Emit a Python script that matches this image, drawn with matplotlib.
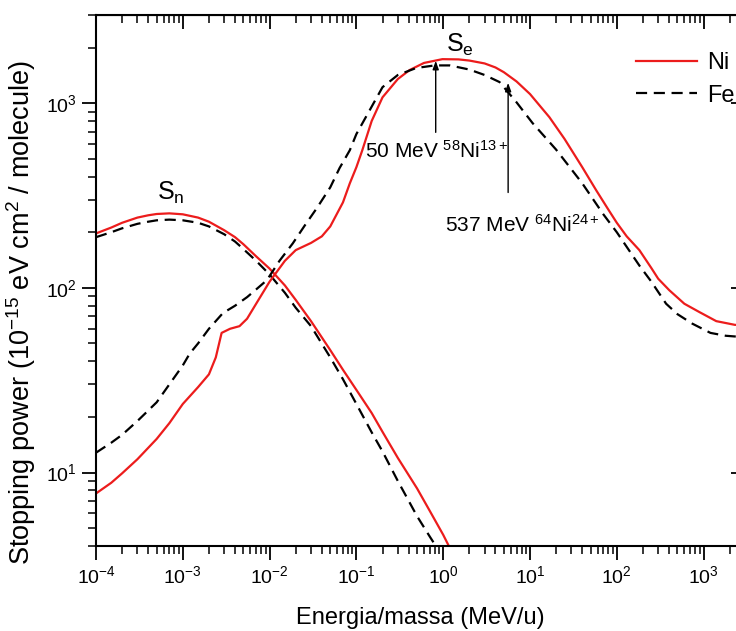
import numpy as np
import matplotlib
matplotlib.use("Agg")
import matplotlib.pyplot as plt

plt.rcParams['font.family'] = ['Liberation Sans', 'DejaVu Sans']
plt.rcParams['mathtext.fontset'] = 'custom'
plt.rcParams['mathtext.rm'] = 'Liberation Sans'
plt.rcParams['mathtext.it'] = 'Liberation Sans:italic'
plt.rcParams['mathtext.bf'] = 'Liberation Sans:bold'

# nuclear stopping Sn (MeV/u, 1e-15 eV cm2/molecule)
e_sn_ni = [1e-4, 1.5e-4, 2e-4, 3e-4, 4e-4, 5e-4, 7e-4, 1e-3, 1.5e-3, 2e-3, 3e-3, 4e-3,
           5e-3, 7e-3, 1e-2, 1.5e-2, 2e-2, 3e-2, 5e-2, 7e-2, 0.1, 0.15, 0.2, 0.3, 0.5, 0.7, 1.0, 1.3]
s_sn_ni = [197, 212, 225, 240, 247, 251, 253, 250, 240, 228, 205, 188,
           172, 148, 127, 103, 86, 66, 46, 36, 28, 21, 16.6, 12, 8.2, 6.2, 4.6, 3.6]
e_sn_fe = [1e-4, 1.5e-4, 2e-4, 3e-4, 4e-4, 5e-4, 7e-4, 1e-3, 1.5e-3, 2e-3, 3e-3, 4e-3,
           5e-3, 7e-3, 1e-2, 1.5e-2, 2e-2, 3e-2, 5e-2, 7e-2, 0.1, 0.15, 0.2, 0.3, 0.5, 0.7, 0.95]
s_sn_fe = [188, 200, 210, 222, 228, 232, 234, 232, 225, 215, 195, 178,
           162, 140, 118, 94, 78, 62, 42, 32, 23.5, 16.5, 13, 9, 5.8, 4.5, 3.6]

# electronic stopping Se
e_se_ni = [1e-4, 1.5e-4, 2e-4, 3e-4, 5e-4, 7e-4, 1e-3, 1.5e-3, 2e-3, 2.4e-3, 2.8e-3, 3.5e-3,
           4.5e-3, 5.5e-3, 7e-3, 1e-2, 1.5e-2, 2e-2, 3e-2, 4e-2, 5e-2, 7e-2, 8.4e-2, 0.1,
           0.117, 0.15, 0.2, 0.3, 0.41, 0.6, 0.98, 1.5, 2, 3, 4, 5, 7, 10, 16.7, 25, 40, 58,
           80, 100, 130, 182, 250, 300, 403, 600, 890, 1400, 2300, 3000]
s_se_ni = [7.7, 8.8, 9.9, 11.8, 15.2, 18.5, 23.5, 29, 34, 42, 57, 60,
           62, 68, 82, 108, 140, 160, 175, 190, 215, 290, 368, 450,
           556, 800, 1075, 1350, 1510, 1650, 1730, 1725, 1700, 1640, 1560, 1470, 1310, 1120, 840, 640, 450, 337,
           265, 225, 190, 160, 128, 112, 97, 82, 74, 66, 63, 63]
e_se_fe = [1e-4, 1.5e-4, 2e-4, 3e-4, 5e-4, 7e-4, 1e-3, 1.2e-3, 1.5e-3, 2e-3, 2.9e-3, 4e-3,
           5.5e-3, 7e-3, 9.3e-3, 1.3e-2, 1.85e-2, 2.5e-2, 3.5e-2, 5e-2, 6.4e-2, 8.4e-2, 0.1,
           0.2, 0.3, 0.49, 0.8, 1.19, 2, 3, 4.46, 7, 10.7, 20, 40, 70, 100, 182, 250, 370,
           500, 740, 1200, 1800, 3000]
s_se_fe = [12.8, 14.5, 16, 19, 24, 30, 38, 44, 50, 60, 73, 80,
           89, 98, 110, 140, 174, 215, 270, 350, 445, 556, 680,
           1220, 1420, 1550, 1600, 1600, 1520, 1420, 1300, 1010, 780, 560, 368, 250, 200, 132, 108, 82,
           72, 64, 57, 55, 54]

# arrows: energy per nucleon, (tail, head) stopping values
arrow1_e, arrow1_s = 0.82, (671, 1755)
arrow2_e, arrow2_s = 5.6, (317, 1333)

red = '#ec1c1c'
dash = (0, (5, 3))

fig = plt.figure(figsize=(7.36, 6.31), dpi=100)
ax = fig.add_axes([96 / 736, 85 / 631, 649 / 736, 531 / 631])

ax.plot(e_sn_ni, s_sn_ni, color=red, lw=1.6, label='Ni')
ax.plot(e_sn_fe, s_sn_fe, color='black', lw=1.6, ls=dash, label='Fe')
ax.plot(e_se_ni, s_se_ni, color=red, lw=1.6)
ax.plot(e_se_fe, s_se_fe, color='black', lw=1.6, ls=dash)

ax.set_xscale('log')
ax.set_yscale('log')
ax.set_xlim(1e-4, 3e3)
ax.set_ylim(4, 3e3)

ax.tick_params(which='major', direction='out', length=10, width=1.3, labelsize=14, pad=4)
ax.tick_params(which='minor', direction='out', length=6, width=1.1)
for s in ax.spines.values():
    s.set_linewidth(1.5)

top = ax.secondary_xaxis('top')
top.tick_params(which='major', direction='in', length=10, width=1.3, labeltop=False)
top.tick_params(which='minor', direction='in', length=6, width=1.1)
right = ax.secondary_yaxis('right')
right.tick_params(which='major', direction='in', length=10, width=1.3, labelright=False)
right.tick_params(which='minor', direction='in', length=6, width=1.1)

ax.set_xlabel('Energia/massa (MeV/u)', fontsize=17, labelpad=14)
ax.set_ylabel('Stopping power (10$^{-15}$ eV cm$^2$ / molecule)', fontsize=19.5)
ax.yaxis.set_label_coords(-0.09, 0.44)

ax.text(1.07, 1890, r'S$_\mathrm{e}$', fontsize=18, va='baseline')
ax.text(5.0e-4, 298, r'S$_\mathrm{n}$', fontsize=18, va='baseline')

for xe, (y0, y1) in [(arrow1_e, arrow1_s), (arrow2_e, arrow2_s)]:
    ax.annotate('', xy=(xe, y1), xytext=(xe, y0),
                arrowprops=dict(arrowstyle='-|>,head_length=0.5,head_width=0.18', color='black', lw=1))
ax.text(0.125, 504, '50 MeV $^{58}$Ni$^{13+}$', fontsize=15, va='baseline')
ax.text(1.04, 200, '537 MeV $^{64}$Ni$^{24+}$', fontsize=15, va='baseline')

ax.legend(loc='upper left', bbox_to_anchor=(636 / 736, 1 - 52 / 631), bbox_transform=fig.transFigure,
          frameon=False, fontsize=17, handlelength=2.6, handletextpad=0.4, borderpad=0,
          borderaxespad=0, labelspacing=0.45)

fig.savefig('out.png', dpi=100)
